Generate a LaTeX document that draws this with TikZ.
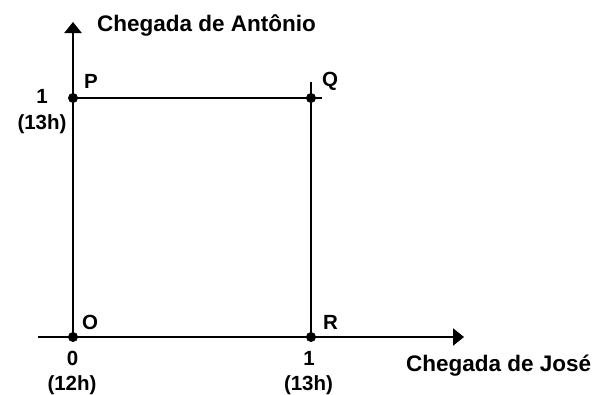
\documentclass[tikz,border=0pt]{standalone}
\usepackage{fontspec}
\setmainfont{Liberation Sans}
\usetikzlibrary{arrows.meta}
\begin{document}
\begin{tikzpicture}[x=1pt,y=-1pt,
  axisline/.style={line width=2.2pt,-{Triangle[length=11pt,width=17pt]}},
  plainline/.style={line width=2.2pt},
  dotnode/.style={circle,fill=black,inner sep=0pt,minimum size=10pt},
  lbl/.style={anchor=base west,inner sep=0pt,font=\fontsize{20.5}{21}\selectfont\bfseries},
  clbl/.style={anchor=base,inner sep=0pt,font=\fontsize{20.5}{21}\selectfont\bfseries},
  ttl/.style={anchor=base west,inner sep=0pt,font=\fontsize{22.5}{23}\selectfont\bfseries}]
\useasboundingbox (0,0) rectangle (605,394);
% coordinates
\coordinate (O) at (73,337);
\coordinate (P) at (73,98);
\coordinate (Q) at (311,98);
\coordinate (R) at (311,337);
\coordinate (xs) at (38,337);
\coordinate (xe) at (464,337);
\coordinate (ye) at (73,22);
\coordinate (qe) at (322,98);
\coordinate (qt) at (311,82);
% lines
\draw[axisline] (xs) -- (xe);
\draw[axisline] (O) -- (ye);
\draw[plainline] (P) -- (qe);
\draw[plainline] (R) -- (qt);
% dots
\node[dotnode] (dO) at (O) {};
\node[dotnode] (dP) at (P) {};
\node[dotnode] (dQ) at (Q) {};
\node[dotnode] (dR) at (R) {};
% point labels
\node[lbl] (lP) at (84,88) {P};
\node[lbl] (lQ) at (322,86) {Q};
\node[lbl] (lO) at (82,329) {O};
\node[lbl] (lR) at (323,329) {R};
% tick labels
\node[clbl] (t1y) at (42,103) {1};
\node[clbl] (t1yh) at (42,129) {(13h)};
\node[clbl] (t0x) at (72.5,365) {0};
\node[clbl] (t0xh) at (72,390) {(12h)};
\node[clbl] (t1x) at (309,365) {1};
\node[clbl] (t1xh) at (308.5,390) {(13h)};
% axis titles
\node[ttl] (ya) at (97,31) {Chegada de Antônio};
\node[ttl] (xa) at (406,371) {Chegada de José};
\end{tikzpicture}
\end{document}
